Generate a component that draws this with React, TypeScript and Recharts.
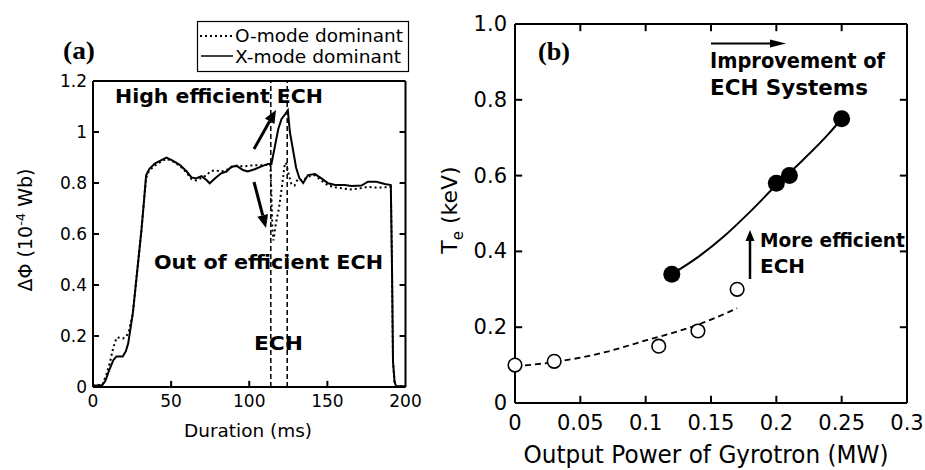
import React from "react";
import { LineChart, ComposedChart, Line, Scatter, XAxis, YAxis, ReferenceLine } from "recharts";

// (a) flux change vs. duration
const xModeT = [0, 6, 8, 10, 13, 15, 19, 21, 22.5, 25.5, 28.8, 31, 32.5, 34, 36, 39.5, 43.8, 47, 51, 55.5, 60, 63, 66, 69.4, 72.6, 74.7, 78, 82, 85.4, 88.6, 92, 96, 99, 103.5, 107.8, 112, 114.2, 116.3, 118.5, 120.6, 123, 124.7, 126, 128, 130, 132, 134.5, 137.6, 142, 146.2, 150.5, 155, 161, 165.4, 171.8, 176, 181.4, 186.7, 190.6, 191.3, 192, 193, 194, 200];
const xModeV = [0.005, 0.008, 0.025, 0.06, 0.105, 0.12, 0.12, 0.14, 0.17, 0.29, 0.485, 0.615, 0.72, 0.83, 0.855, 0.876, 0.89, 0.9, 0.888, 0.871, 0.845, 0.822, 0.818, 0.827, 0.812, 0.799, 0.818, 0.838, 0.845, 0.864, 0.867, 0.851, 0.845, 0.854, 0.865, 0.875, 0.875, 0.94, 1.01, 1.05, 1.07, 1.085, 1.0, 0.93, 0.86, 0.82, 0.8, 0.831, 0.835, 0.818, 0.799, 0.792, 0.792, 0.788, 0.79, 0.805, 0.805, 0.796, 0.792, 0.5, 0.1, 0.02, 0.003, 0.003];
const oModeT = [0, 6, 8.6, 11, 12.4, 14, 15.4, 19.2, 21.5, 23, 25.5, 28.8, 31, 32.5, 34, 36, 40, 44, 47, 51, 55.5, 60, 63, 66, 69.4, 72.6, 75, 78, 82, 85.4, 88.6, 92, 96, 100, 104, 108, 113.5, 114.2, 114.8, 115.5, 117, 119, 121, 122.5, 123.5, 125, 127, 129, 131, 134, 137.6, 142, 146, 150.5, 155, 161, 165, 171.8, 176, 181, 186.7, 190.6, 191.3, 192, 193, 194, 200];
const oModeV = [0.005, 0.008, 0.05, 0.1, 0.14, 0.175, 0.195, 0.19, 0.2, 0.22, 0.29, 0.485, 0.615, 0.72, 0.82, 0.85, 0.87, 0.885, 0.895, 0.885, 0.868, 0.84, 0.815, 0.81, 0.82, 0.83, 0.845, 0.85, 0.845, 0.85, 0.862, 0.868, 0.865, 0.868, 0.87, 0.87, 0.872, 0.75, 0.62, 0.575, 0.64, 0.7, 0.79, 0.865, 0.88, 0.84, 0.795, 0.79, 0.815, 0.81, 0.825, 0.83, 0.81, 0.79, 0.783, 0.778, 0.775, 0.78, 0.785, 0.782, 0.783, 0.785, 0.5, 0.1, 0.02, 0.003, 0.003];
const echWindow = [113.8, 124.3];
const durationTicks = [0, 50, 100, 150, 200];
const fluxTicks = [0, 0.2, 0.4, 0.6, 0.8, 1, 1.2];

// (b) Te vs. gyrotron power
const powerTicks = [0, 0.05, 0.1, 0.15, 0.2, 0.25, 0.3];
const teTicks = [0, 0.2, 0.4, 0.6, 0.8, 1.0];
const openPower = [0, 0.03, 0.11, 0.14, 0.17];
const openTe = [0.1, 0.11, 0.15, 0.19, 0.3];
const filledPower = [0.12, 0.2, 0.21, 0.25];
const filledTe = [0.34, 0.58, 0.6, 0.75];
const openFitPower = [0, 0.03, 0.07, 0.1, 0.13, 0.15, 0.17];
const openFitTe = [0.097, 0.108, 0.135, 0.165, 0.195, 0.22, 0.25];
const filledFitPower = [0.12, 0.14, 0.16, 0.18, 0.2, 0.22, 0.24, 0.25];
const filledFitTe = [0.34, 0.385, 0.44, 0.505, 0.575, 0.64, 0.71, 0.75];

const fluxRows = (ts: number[], vs: number[]) => ts.map((t, i) => ({ t, v: vs[i] }));
const teRows = (ps: number[], vs: number[]) => ps.map((p, i) => ({ p, te: vs[i] }));

const FONT = "DejaVu Sans";
const axisLine = { stroke: "#000", strokeWidth: 2 };
const tickMark = { stroke: "#000", strokeWidth: 2 };

// inner tick length expressed in each axis' data units (~6-7 px)
const aTickX = 3.8;
const aTickY = 0.024;
const bTickX = 0.0055;
const bTickY = 0.019;

// label only; x/y arrive on the axis line (tickSize/tickMargin 0)
function AxisTick(props: any) {
  const { x, y, payload, side, gap, size, fmt } = props;
  const text = fmt ? fmt(payload.value) : String(payload.value);
  if (side === "left") {
    return (
      <text x={x - gap} y={y} textAnchor="end" dominantBaseline="central"
        fontFamily={FONT} fontSize={size} fill="#000">{text}</text>
    );
  }
  return (
    <text x={x} y={y + gap} dy="0.72em" textAnchor="middle"
      fontFamily={FONT} fontSize={size} fill="#000">{text}</text>
  );
}

// inward tick marks on all four sides, drawn as short reference segments
function innerTicks(xt: number[], yt: number[], x0: number, x1: number, y0: number, y1: number,
  dx: number, dy: number, top: boolean) {
  const out: any[] = [];
  xt.slice(1, -1).forEach((v) => {
    out.push(<ReferenceLine key={`b${v}`} segment={[{ x: v, y: y0 }, { x: v, y: y0 + dy }]} {...tickMark} />);
    if (top) out.push(<ReferenceLine key={`t${v}`} segment={[{ x: v, y: y1 }, { x: v, y: y1 - dy }]} {...tickMark} />);
  });
  yt.slice(1, -1).forEach((v) => {
    out.push(<ReferenceLine key={`l${v}`} segment={[{ x: x0, y: v }, { x: x0 + dx, y: v }]} {...tickMark} />);
    out.push(<ReferenceLine key={`r${v}`} segment={[{ x: x1, y: v }, { x: x1 - dx, y: v }]} {...tickMark} />);
  });
  return out;
}

function Arrow({ x1, y1, x2, y2, w = 2.5, len = 12, half = 5 }: any) {
  const a = Math.atan2(y2 - y1, x2 - x1);
  const bx = x2 - len * Math.cos(a);
  const by = y2 - len * Math.sin(a);
  const px = -Math.sin(a) * half;
  const py = Math.cos(a) * half;
  return (
    <g>
      <line x1={x1} y1={y1} x2={bx} y2={by} stroke="#000" strokeWidth={w} />
      <polygon points={`${x2},${y2} ${bx + px},${by + py} ${bx - px},${by - py}`} fill="#000" />
    </g>
  );
}

function BoldText({ x, y, w, size = 20, children }: any) {
  return (
    <text x={x} y={y} fontFamily={FONT} fontWeight="bold" fontSize={size}
      textLength={w} lengthAdjust="spacingAndGlyphs">
      {children}
    </text>
  );
}

const teFmt = (v: number) => (v === 0 ? "0" : v.toFixed(1));

export default function App() {
  const xRows = fluxRows(xModeT, xModeV);
  const oRows = fluxRows(oModeT, oModeV);
  const openRows = teRows(openPower, openTe);
  const filledRows = teRows(filledPower, filledTe);
  const openFit = teRows(openFitPower, openFitTe);
  const filledFit = teRows(filledFitPower, filledFitTe);

  return (
    <div style={{ position: "absolute", left: 0, top: 0, width: 925, height: 470, background: "#fff" }}>
      <div style={{ position: "absolute", left: 0, top: 0 }}>
        <LineChart width={470} height={470} margin={{ top: 80, right: 63.5, bottom: 53, left: 43 }}>
          <XAxis type="number" dataKey="t" domain={[0, 200]} ticks={durationTicks} interval={0}
            tickSize={0} tickMargin={0} axisLine={axisLine} tickLine={false}
            tick={<AxisTick side="bottom" gap={8} size={17} />} />
          <XAxis xAxisId="top" orientation="top" type="number" domain={[0, 200]} ticks={durationTicks}
            height={1} tickSize={0} tickMargin={0} tick={false} tickLine={false} axisLine={axisLine} />
          <YAxis type="number" domain={[0, 1.2]} ticks={fluxTicks} interval={0} width={50}
            tickSize={0} tickMargin={0} axisLine={axisLine} tickLine={false}
            tick={<AxisTick side="left" gap={6} size={17} />} />
          <YAxis yAxisId="right" orientation="right" type="number" domain={[0, 1.2]} ticks={fluxTicks}
            interval={0} width={1} tickSize={0} tickMargin={0} tick={false} tickLine={false} axisLine={axisLine} />
          {innerTicks(durationTicks, fluxTicks, 0, 200, 0, 1.2, aTickX, aTickY, false)}
          {echWindow.map((x) => (
            <ReferenceLine key={x} x={x} stroke="#000" strokeWidth={1.5} strokeDasharray="5 3" />
          ))}
          <Line data={oRows} dataKey="v" type="linear" stroke="#000" strokeWidth={2}
            strokeDasharray="2 3" dot={false} isAnimationActive={false} />
          <Line data={xRows} dataKey="v" type="linear" stroke="#000" strokeWidth={2}
            dot={false} isAnimationActive={false} />
        </LineChart>
      </div>

      <div style={{ position: "absolute", left: 440, top: 0 }}>
        <ComposedChart width={485} height={470} margin={{ top: 23, right: 17, bottom: 37, left: 30 }}>
          <XAxis type="number" dataKey="p" domain={[0, 0.3]} ticks={powerTicks} interval={0}
            tickSize={0} tickMargin={0} axisLine={axisLine} tickLine={false}
            tick={<AxisTick side="bottom" gap={12} size={21} />} />
          <XAxis xAxisId="top" orientation="top" type="number" domain={[0, 0.3]} ticks={powerTicks}
            interval={0} height={1} tickSize={0} tickMargin={0} tick={false} tickLine={false} axisLine={axisLine} />
          <YAxis type="number" dataKey="te" domain={[0, 1]} ticks={teTicks} interval={0} width={45}
            tickSize={0} tickMargin={0} axisLine={axisLine} tickLine={false}
            tick={<AxisTick side="left" gap={8} size={21} fmt={teFmt} />} />
          <YAxis yAxisId="right" orientation="right" type="number" domain={[0, 1]} ticks={teTicks}
            interval={0} width={1} tickSize={0} tickMargin={0} tick={false} tickLine={false} axisLine={axisLine} />
          {innerTicks(powerTicks, teTicks, 0, 0.3, 0, 1, bTickX, bTickY, true)}
          <Line data={openFit} dataKey="te" type="monotone" stroke="#000" strokeWidth={1.8}
            strokeDasharray="6 4" dot={false} isAnimationActive={false} />
          <Line data={filledFit} dataKey="te" type="monotone" stroke="#000" strokeWidth={2}
            dot={false} isAnimationActive={false} />
          <Scatter data={openRows} isAnimationActive={false}
            shape={(p: any) => <circle cx={p.cx} cy={p.cy} r={6.8} fill="#fff" stroke="#000" strokeWidth={1.6} />} />
          <Scatter data={filledRows} isAnimationActive={false}
            shape={(p: any) => <circle cx={p.cx} cy={p.cy} r={8.5} fill="#000" />} />
        </ComposedChart>
      </div>

      <svg width={925} height={470} style={{ position: "absolute", left: 0, top: 0, pointerEvents: "none" }}>
        {/* panel (a) */}
        <text x={63} y={59} fontFamily="Liberation Serif" fontWeight="bold" fontSize={26}
          textLength={32} lengthAdjust="spacingAndGlyphs">(a)</text>
        <rect x={197.5} y={21.5} width={211} height={50} fill="#fff" stroke="#000" strokeWidth={1.2} />
        <line x1={200} y1={36} x2={233} y2={36} stroke="#000" strokeWidth={1.8} strokeDasharray="2 3" />
        <line x1={201} y1={56} x2={233} y2={56} stroke="#000" strokeWidth={1.5} />
        <text x={235} y={42} fontFamily={FONT} fontSize={17} textLength={168} lengthAdjust="spacingAndGlyphs">O-mode dominant</text>
        <text x={235} y={62.5} fontFamily={FONT} fontSize={17} textLength={166} lengthAdjust="spacingAndGlyphs">X-mode dominant</text>
        <BoldText x={115} y={103} w={208}>High efficient ECH</BoldText>
        <BoldText x={154} y={269} w={229}>Out of efficient ECH</BoldText>
        <BoldText x={254} y={350} w={49}>ECH</BoldText>
        <Arrow x1={254} y1={149} x2={276} y2={110} w={3} len={13} half={5.5} />
        <Arrow x1={254} y1={182} x2={266} y2={228} w={3} len={13} half={5.5} />
        <text transform="translate(31.5,230) rotate(-90)" textAnchor="middle" fontFamily={FONT} fontSize={19}>
          ΔΦ (10<tspan dy={-7} fontSize={13}>-4</tspan><tspan dy={7}> Wb)</tspan>
        </text>
        <text x={248} y={437} textAnchor="middle" fontFamily={FONT} fontSize={18}
          textLength={128} lengthAdjust="spacingAndGlyphs">Duration (ms)</text>

        {/* panel (b) */}
        <text x={538} y={60} fontFamily="Liberation Serif" fontWeight="bold" fontSize={26}
          textLength={32} lengthAdjust="spacingAndGlyphs">(b)</text>
        <Arrow x1={711} y1={43.5} x2={786} y2={43.5} w={2} len={16} half={4} />
        <BoldText x={710} y={68} w={175} size={21}>Improvement of</BoldText>
        <BoldText x={710} y={95} w={158} size={21}>ECH Systems</BoldText>
        <Arrow x1={750} y1={279} x2={750} y2={230} w={2.5} len={11} half={4.5} />
        <BoldText x={760} y={247} w={145} size={19}>More efficient</BoldText>
        <BoldText x={760} y={273} w={45} size={19}>ECH</BoldText>
        <text transform="translate(457,210) rotate(-90)" textAnchor="middle" fontFamily={FONT} fontSize={22}>
          T<tspan dy={6} fontSize={15}>e</tspan><tspan dy={-6}> (keV)</tspan>
        </text>
        <text x={706} y={463} textAnchor="middle" fontFamily={FONT} fontSize={24}
          textLength={365} lengthAdjust="spacingAndGlyphs">Output Power of Gyrotron (MW)</text>
      </svg>
    </div>
  );
}
